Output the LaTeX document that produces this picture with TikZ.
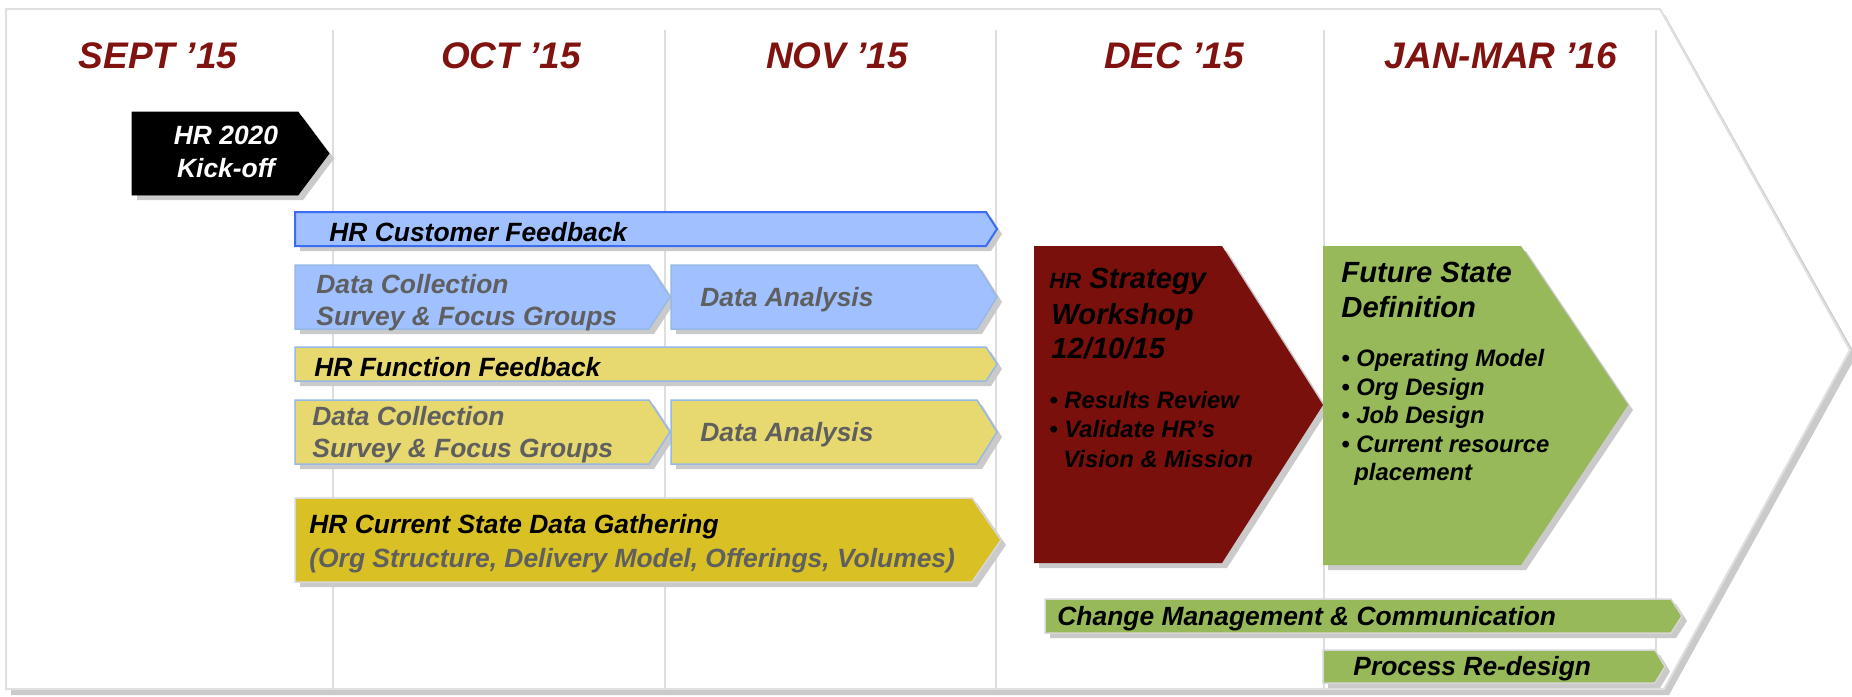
\documentclass[tikz,border=0pt]{standalone}
\usepackage{fontspec}
\setmainfont{Liberation Sans}
\usetikzlibrary{calc}

\definecolor{monthred}{RGB}{128,18,16}
\definecolor{maroonbox}{RGB}{122,16,12}
\definecolor{barblue}{RGB}{160,192,255}
\definecolor{edgeblue}{RGB}{58,108,244}
\definecolor{lightedge}{RGB}{150,185,230}
\definecolor{baryellow}{RGB}{232,216,112}
\definecolor{bargold}{RGB}{217,193,37}
\definecolor{bargreen}{RGB}{151,185,90}
\definecolor{textgray}{RGB}{95,95,95}
\definecolor{shadowgray}{RGB}{202,202,202}
\definecolor{gridgray}{RGB}{222,222,222}
\definecolor{framegray}{RGB}{224,224,224}
\definecolor{softedge}{RGB}{215,215,215}

% arrow-shaped bar with drop shadow:
% #1 left, #2 top, #3 bottom, #4 end of body, #5 tip x, #6 fill/draw style
\newcommand{\tlchev}[6]{%
  \fill[shadowgray,shift={(5,5)}] (#1,#2) -- (#4,#2) -- (#5,{(#2+#3)/2}) -- (#4,#3) -- (#1,#3) -- cycle;
  \filldraw[#6] (#1,#2) -- (#4,#2) -- (#5,{(#2+#3)/2}) -- (#4,#3) -- (#1,#3) -- cycle;
}

\tikzset{
  month/.style={font=\fontsize{18.5}{22}\selectfont\bfseries\itshape, text=monthred, anchor=base, inner sep=0pt},
  bartext/.style={font=\fontsize{13.2}{16}\selectfont\bfseries\itshape, anchor=base west, inner sep=0pt},
  graytext/.style={bartext, text=textgray},
  titletext/.style={font=\fontsize{14.6}{17}\selectfont\bfseries\itshape, anchor=base west, inner sep=0pt},
  bullettext/.style={font=\fontsize{11.9}{14}\selectfont\bfseries\itshape, anchor=base west, inner sep=0pt},
  gridline/.style={draw=gridgray, line width=0.7pt},
}

\begin{document}
\begin{tikzpicture}[x=0.5pt,y=-0.5pt]
\useasboundingbox (0,0) rectangle (1852,696);

% outer timeline arrow
\fill[shadowgray] (11,15) -- (1665,15) -- (1856,356) -- (1669,695) -- (11,695) -- cycle;
\filldraw[fill=white, draw=framegray, line width=1pt]
  (6,9) -- (1660,9) -- (1850,350) -- (1664,689) -- (6,689) -- cycle;

% month separators
\foreach \gx in {333,665,996,1324,1656}
  \draw[gridline] (\gx,30) -- (\gx,689);

% month headings
\node[month] (mSep) at (158,68) {SEPT ’15};
\node[month] (mOct) at (511,68) {OCT ’15};
\node[month] (mNov) at (837,68) {NOV ’15};
\node[month] (mDec) at (1174,68) {DEC ’15};
\node[month] (mJan) at (1501,68) {JAN-MAR ’16};

% kick-off
\tlchev{132}{112}{195}{298}{329}{fill=black, draw=black}
\node[bartext, anchor=base, text=white] (koA) at (226,144) {HR 2020};
\node[bartext, anchor=base, text=white] (koB) at (226,177) {Kick-off};

% customer feedback track
\tlchev{295}{212}{246}{986}{997}{fill=barblue, draw=edgeblue, line width=1pt}
\node[bartext] (cust) at (329,241) {HR Customer Feedback};
\tlchev{295}{265}{329}{649}{670}{fill=barblue, draw=lightedge, line width=0.75pt}
\node[graytext] (dcBlueA) at (316,293) {Data Collection};
\node[graytext] (dcBlueB) at (316,325) {Survey \& Focus Groups};
\tlchev{671}{265}{329}{977}{997}{fill=barblue, draw=lightedge, line width=0.75pt}
\node[graytext] (daBlue) at (700,306) {Data Analysis};

% function feedback track
\tlchev{295}{347}{381}{986}{997}{fill=baryellow, draw=lightedge, line width=0.75pt}
\node[bartext] (func) at (314,376) {HR Function Feedback};
\tlchev{295}{400}{464}{649}{670}{fill=baryellow, draw=lightedge, line width=0.75pt}
\node[graytext] (dcYelA) at (312,425) {Data Collection};
\node[graytext] (dcYelB) at (312,457) {Survey \& Focus Groups};
\tlchev{671}{400}{464}{977}{997}{fill=baryellow, draw=lightedge, line width=0.75pt}
\node[graytext] (daYel) at (700,441) {Data Analysis};

% current state data gathering
\tlchev{295}{498}{582}{972}{1001}{fill=bargold, draw=softedge, line width=0.75pt}
\node[bartext] (curA) at (309,533) {HR Current State Data Gathering};
\node[graytext] (curB) at (309,567) {(Org Structure, Delivery Model, Offerings, Volumes)};

% strategy workshop
\fill[shadowgray,shift={(5,5)}] (1034,246) -- (1222,246) -- (1323,405) -- (1222,563) -- (1034,563) -- cycle;
\fill[maroonbox] (1034,246) -- (1222,246) -- (1323,405) -- (1222,563) -- (1034,563) -- cycle;
\node[titletext] (wsA) at (1049,288) {{\fontsize{11}{13}\selectfont HR} Strategy};
\node[titletext] (wsB) at (1051,324) {Workshop};
\node[titletext] (wsC) at (1051,358) {12/10/15};
\node[bullettext] (wsD) at (1049,408) {• Results Review};
\node[bullettext] (wsE) at (1049,437) {• Validate HR’s};
\node[bullettext] (wsF) at (1063,467) {Vision \& Mission};

% future state definition
\fill[shadowgray,shift={(5,5)}] (1323,246) -- (1521,246) -- (1628,405) -- (1521,565) -- (1323,565) -- cycle;
\fill[bargreen] (1323,246) -- (1521,246) -- (1628,405) -- (1521,565) -- (1323,565) -- cycle;
\node[titletext] (fsA) at (1341,282) {Future State};
\node[titletext] (fsB) at (1341,317) {Definition};
\node[bullettext] (fsC) at (1341,366) {• Operating Model};
\node[bullettext] (fsD) at (1341,395) {• Org Design};
\node[bullettext] (fsE) at (1341,423) {• Job Design};
\node[bullettext] (fsF) at (1341,452) {• Current resource};
\node[bullettext] (fsG) at (1354,480) {placement};

% ongoing workstreams
\tlchev{1045}{599}{633}{1671}{1682}{fill=bargreen, draw=softedge, line width=0.75pt}
\node[bartext] (chg) at (1057,625) {Change Management \& Communication};
\tlchev{1323}{650}{683}{1655}{1665}{fill=bargreen, draw=softedge, line width=0.75pt}
\node[bartext] (proc) at (1353,675) {Process Re-design};

\end{tikzpicture}
\end{document}
